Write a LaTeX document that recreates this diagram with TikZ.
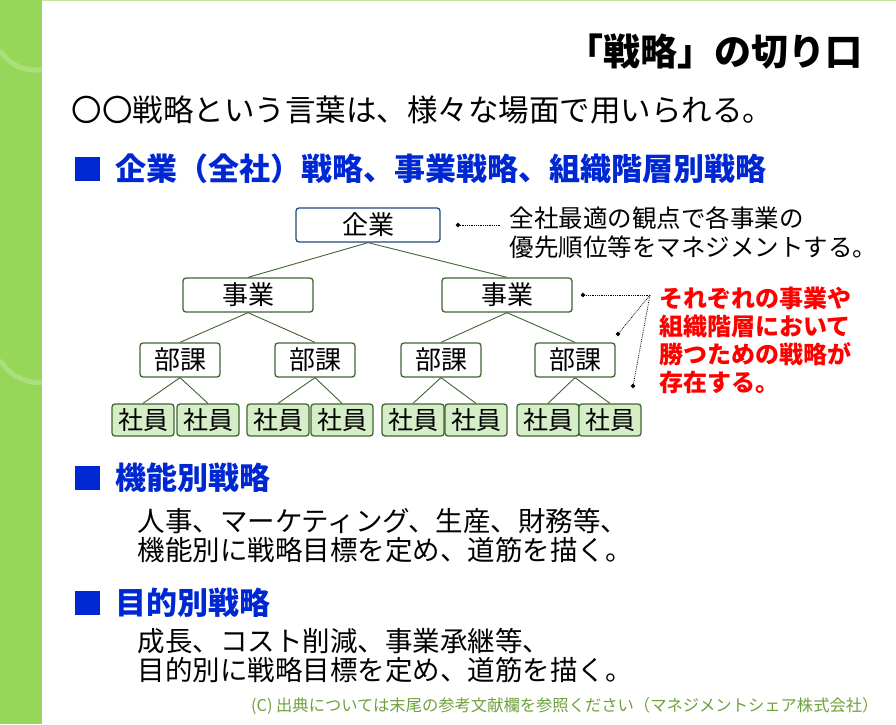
\documentclass[tikz,border=0pt]{standalone}
\usepackage{fontspec}
\setmainfont{Noto Sans CJK JP}
\usetikzlibrary{positioning,shapes.geometric}
\definecolor{boxblue}{RGB}{31,73,125}
\definecolor{boxgreen}{RGB}{64,100,50}
\definecolor{leafgreen}{RGB}{214,238,200}
\definecolor{headblue}{RGB}{0,40,210}
\definecolor{bandgreen}{RGB}{150,215,90}
\definecolor{footgreen}{RGB}{110,160,60}
\begin{document}
\begin{tikzpicture}[x=1pt,y=-1pt,
    unit/.style={draw=boxgreen,line width=1.3pt,rounded corners=3pt,fill=white,
                 minimum height=34pt,inner sep=1pt,font=\fontsize{26}{28}\selectfont},
    top node/.style={unit,draw=boxblue,minimum width=144pt},
    biz node/.style={unit,minimum width=130pt},
    sec node/.style={unit,minimum width=80pt},
    staff node/.style={unit,fill=leafgreen,minimum width=62pt,minimum height=32pt,
                       font=\fontsize{25}{27}\selectfont},
    link/.style={boxgreen,line width=0.9pt},
    note/.style={densely dotted,line width=0.8pt},
    tip/.style={fill,diamond,inner sep=0pt,minimum size=5pt},
    head/.style={anchor=west,text=headblue,font=\fontsize{31}{34}\selectfont\bfseries},
    body/.style={anchor=west,font=\fontsize{27.5}{30}\selectfont}]
\useasboundingbox (0,0) rectangle (896,724);
% background
\fill[bandgreen] (0,0) rectangle (42,724);
\draw[white,opacity=0.2,line width=5pt] (0,50) arc[start angle=150,end angle=40,radius=40];
\draw[white,opacity=0.2,line width=5pt] (0,360) arc[start angle=150,end angle=40,radius=45];
\draw[bandgreen!60,line width=1pt] (42,0.5) -- (896,0.5);
% title and lead
\node[anchor=east,font=\fontsize{37}{40}\selectfont\bfseries] (title) at (866,52) {「戦略」の切り口};
\node[anchor=west,font=\fontsize{30.5}{34}\selectfont] (lead) at (68,110) {〇〇戦略という言葉は、様々な場面で用いられる。};
% section 1
\fill[headblue] (75,157) rectangle (100,181);
\node[head] (h1) at (112,169) {企業（全社）戦略、事業戦略、組織階層別戦略};
% tree
\node[top node] (corp) at (368,225) {企業};
\node[biz node] (biz1) at (248,295) {事業};
\node[biz node] (biz2) at (507,295) {事業};
\node[sec node] (sec1) at (180,360) {部課};
\node[sec node] (sec2) at (315,360) {部課};
\node[sec node] (sec3) at (441,360) {部課};
\node[sec node] (sec4) at (575,360) {部課};
\foreach \i/\x in {1/143,2/208,3/278,4/342,5/413,6/476,7/548,8/610}
  \node[staff node] (st\i) at (\x,420) {社員};
\draw[link] (corp.south) -- (biz1.north);
\draw[link] (corp.south) -- (biz2.north);
\draw[link] (biz1.south) -- (sec1.north);
\draw[link] (biz1.south) -- (sec2.north);
\draw[link] (biz2.south) -- (sec3.north);
\draw[link] (biz2.south) -- (sec4.north);
\foreach \s/\a/\b in {1/1/2,2/3/4,3/5/6,4/7/8}{
  \draw[link] (sec\s.south) -- (st\a.north);
  \draw[link] (sec\s.south) -- (st\b.north);
}
% notes
\node[anchor=west,align=left,font=\fontsize{24.5}{29}\selectfont] (note1) at (506,233) {全社最適の観点で各事業の\\優先順位等をマネジメントする。};
\coordinate (n1tip) at (458,225);
\node[tip] at (n1tip) {};
\draw[note] (n1tip) -- (500,225);
\node[anchor=west,align=left,text=red,font=\fontsize{24}{28}\selectfont\bfseries] (note2) at (656,340) {それぞれの事業や\\組織階層において\\勝つための戦略が\\存在する。};
\coordinate (hub) at (650,295);
\coordinate (n2a) at (583,295);
\coordinate (n2b) at (618,334);
\coordinate (n2c) at (633,386);
\foreach \c in {n2a,n2b,n2c}{
  \node[tip] at (\c) {};
  \draw[note] (hub) -- (\c);
}
% section 2
\fill[headblue] (75,466) rectangle (100,490);
\node[head] (h2) at (112,478) {機能別戦略};
\node[body] (b2a) at (134,521) {人事、マーケティング、生産、財務等、};
\node[body] (b2b) at (134,550) {機能別に戦略目標を定め、道筋を描く。};
% section 3
\fill[headblue] (75,591) rectangle (100,615);
\node[head] (h3) at (112,603) {目的別戦略};
\node[body] (b3a) at (134,641) {成長、コスト削減、事業承継等、};
\node[body] (b3b) at (134,670) {目的別に戦略目標を定め、道筋を描く。};
% footer
\node[anchor=east,text=footgreen,font=\fontsize{16.3}{18}\selectfont] (foot) at (882,706) {(C) 出典については末尾の参考文献欄を参照ください（マネジメントシェア株式会社）};
\end{tikzpicture}
\end{document}
